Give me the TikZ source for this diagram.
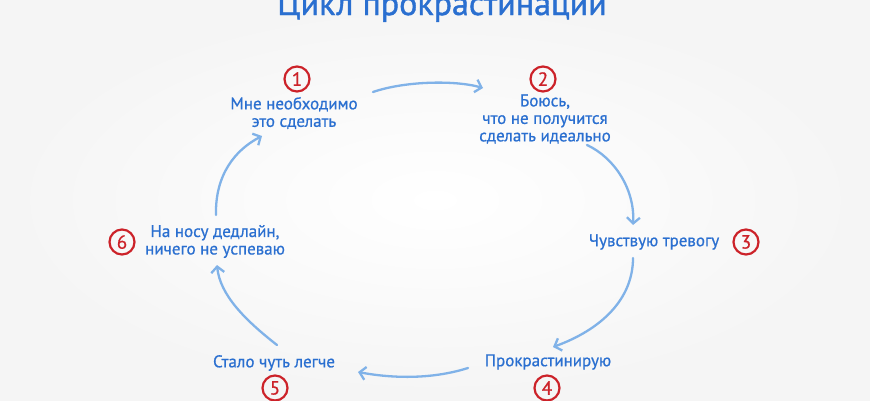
\documentclass[tikz,border=0pt]{standalone}
\usepackage{fontspec}
\setmainfont{PT Sans}
\newfontfamily\lblfont[FakeBold=0.7]{PT Sans}
\newfontfamily\ttlfont[FakeBold=1.2]{PT Sans}
\usetikzlibrary{arrows.meta}
\definecolor{txtblue}{HTML}{2A6FD0}
\definecolor{arrblue}{HTML}{80B2E8}
\definecolor{numred}{HTML}{CC2229}
\tikzset{
  lbl/.style={text=txtblue, font=\lblfont\fontsize{17}{17.5}\selectfont, align=center, inner sep=0pt},
  num/.style={circle, draw=numred, line width=2.2pt, text=numred, minimum size=25pt, inner sep=0pt, font=\lblfont\fontsize{19}{19}\selectfont},
  flow/.style={draw=arrblue, line width=2.3pt, line cap=round, -{Straight Barb[length=6pt,width=13pt,line width=2.3pt]}},
}
\begin{document}
\begin{tikzpicture}[x=1pt,y=-1pt]
\useasboundingbox (0,0) rectangle (870,400);
\shade[inner color=white, outer color=black!4] (0,0) rectangle (870,400);
\node[text=txtblue, font=\ttlfont\fontsize{34}{34}\selectfont, anchor=base, inner sep=0pt] (title) at (442,15) {Цикл прокрастинации};
% labels
\node[lbl] (t1) at (294,113) {Мне необходимо\\это сделать};
\node[lbl] (t2) at (545,119) {Боюсь,\\что не получится\\сделать идеально};
\node[lbl] (t3) at (654,242) {Чувствую тревогу};
\node[lbl] (t4) at (548,362) {Прокрастинирую};
\node[lbl] (t5) at (274,363) {Стало чуть легче};
\node[lbl] (t6) at (215,241.5) {На носу дедлайн,\\ничего не успеваю};
% numbers
\node[num] (c1) at (297,79) {1};
\node[num] (c2) at (543,79) {2};
\node[num] (c3) at (746,242) {3};
\node[num] (c4) at (547,388) {4};
\node[num] (c5) at (275,388) {5};
\node[num] (c6) at (122,242) {6};
% arrows
\draw[flow] ([shift={(79,-21)}]t1.center) .. controls (405,81) and (455,80) .. ([shift={(-62,-31)}]t2.center);
\draw[flow] ([shift={(42,26)}]t2.center) .. controls (615,158) and (635,190) .. ([shift={(-21,-17)}]t3.center);
\draw[flow] ([shift={(-21,16)}]t3.center) .. controls (633,300) and (600,330) .. ([shift={(5,-15)}]t4.center);
\draw[flow] ([shift={(-80,6)}]t4.center) .. controls (430,380) and (390,378) .. ([shift={(84,9)}]t5.center);
\draw[flow] ([shift={(3,-18)}]t5.center) .. controls (245,320) and (220,295) .. ([shift={(2,23.5)}]t6.center);
\draw[flow] ([shift={(1,-26.5)}]t6.center) .. controls (215,175) and (235,150) .. ([shift={(-32,23)}]t1.center);
\end{tikzpicture}
\end{document}
